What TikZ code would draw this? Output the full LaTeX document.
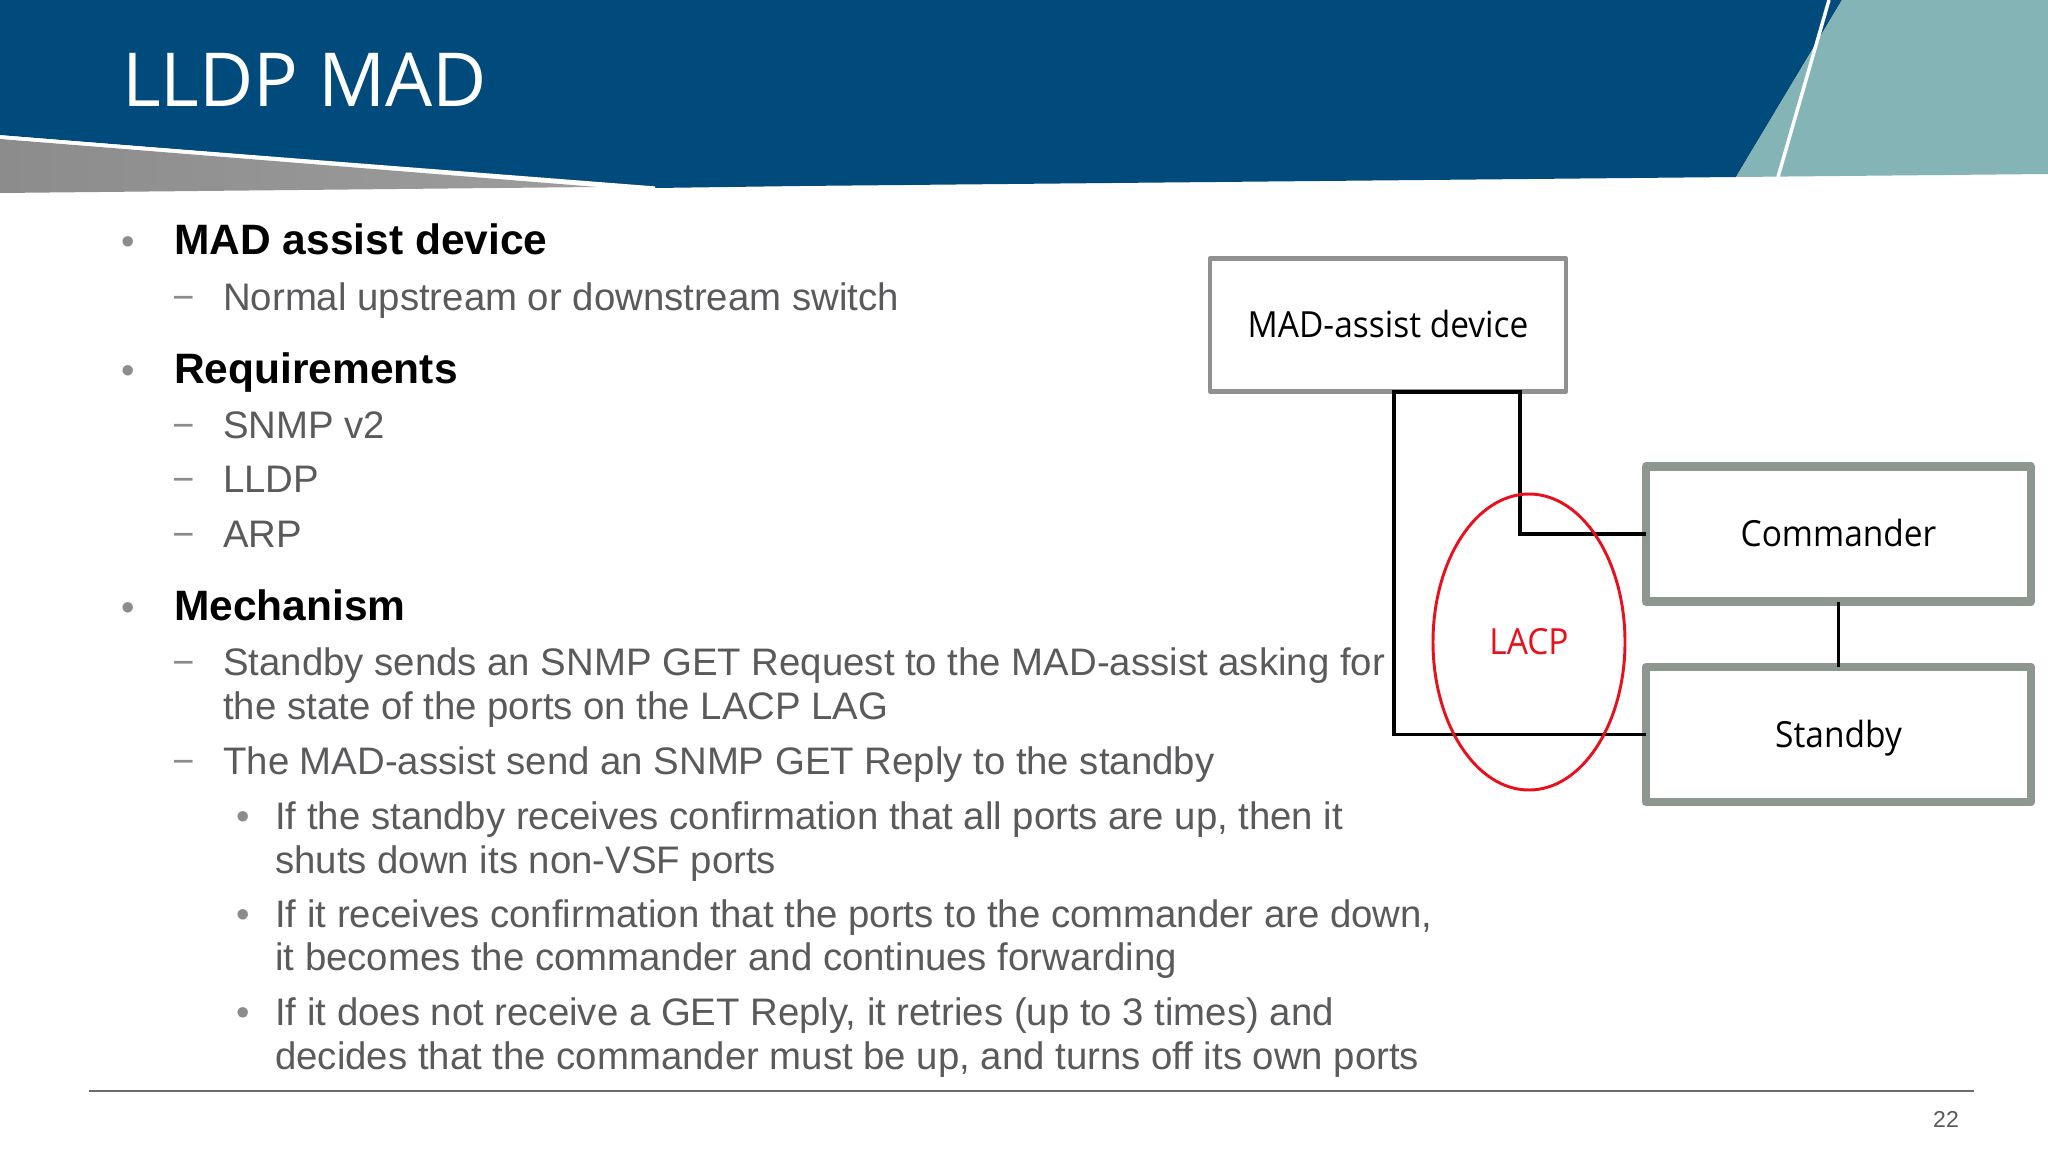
\documentclass[tikz,border=0pt]{standalone}
\usepackage{fontspec}
\setmainfont{Liberation Sans}
\newfontfamily\lblfont[FakeStretch=0.93]{Open Sans}
\newfontfamily\ttlfont{Open Sans}
\usetikzlibrary{shapes.geometric}
\definecolor{hdrblue}{HTML}{004B7C}
\definecolor{hdrteal}{HTML}{84B4B5}
\definecolor{bodygray}{HTML}{5A5A5C}
\definecolor{bulgray}{HTML}{8C8C8C}
\definecolor{boxgray}{HTML}{8E9690}
\definecolor{madgray}{HTML}{909090}
\definecolor{lacpred}{HTML}{E8101C}
\newcommand{\fpx}[1]{\fontsize{\dimexpr#1pt*3/4\relax}{\dimexpr#1pt*3/4\relax}\selectfont}
\tikzset{
  x=0.75pt,y=-0.75pt,
  head/.style={font=\fpx{42.5}\bfseries,text=black,anchor=base west,inner sep=0},
  body/.style={font=\fpx{38.35},text=bodygray,anchor=base west,inner sep=0},
  mark1/.style={font=\fpx{38.35},text=bulgray,anchor=base,inner sep=0},
  lbl/.style={font=\lblfont\fpx{36},text height=19.3pt,text depth=0pt},
  dev/.style={lbl,draw=boxgray,line width=6.4pt,line join=round,fill=white,minimum width=288.75pt,minimum height=101.25pt,inner sep=0,outer sep=0,text=black},
  madbox/.style={lbl,draw=madgray,line width=3.2pt,line join=round,fill=white,minimum width=267pt,minimum height=99.75pt,inner sep=0,outer sep=0,text=black},
  wire/.style={draw=black,line width=2.3pt,line join=miter},
}
\begin{document}
\begin{tikzpicture}
\useasboundingbox (0,0) rectangle (2048,1152);
\fill[white] (0,0) rectangle (2048,1152);
% header
\fill[hdrblue] (0,0) -- (1842,0) -- (1736,177) -- (800,186) -- (655,188) -- (0,135) -- cycle;
\shade[left color=bulgray,right color=bulgray!85] (0,139) -- (597,187) -- (0,193) -- cycle;
\fill[hdrteal] (1842,0) -- (2048,0) -- (2048,174) -- (1736,177) -- cycle;
\draw[white,line width=2.6pt] (1829,0) -- (1778,177);
\draw[white,line width=2.4pt] (0,137) -- (655,188);
% title
\node[font=\ttlfont\fpx{74.5},text=white,anchor=base west,inner sep=0] (title) at (122,107) {LLDP MAD};
% text
\node[mark1] (b1) at (128,254) {•};
\node[head] (t1) at (174,254) {MAD assist device};
\node[mark1] (d1) at (184,310) {−};
\node[body] (t2) at (223,310) {Normal upstream or downstream switch};
\node[mark1] (b2) at (128,383) {•};
\node[head] (t3) at (174,383) {Requirements};
\node[mark1] (d2) at (184,438) {−};
\node[body] (t4) at (223,438) {SNMP v2};
\node[mark1] (d3) at (184,492) {−};
\node[body] (t5) at (223,492) {LLDP};
\node[mark1] (d4) at (184,547) {−};
\node[body] (t6) at (223,547) {ARP};
\node[mark1] (b3) at (128,620) {•};
\node[head] (t7) at (174,620) {Mechanism};
\node[mark1] (d5) at (184,675) {−};
\node[body] (t8) at (223,675) {Standby sends an SNMP GET Request to the MAD-assist asking for};
\node[body] (t9) at (223,719) {the state of the ports on the LACP LAG};
\node[mark1] (d6) at (184,774) {−};
\node[body] (t10) at (223,774) {The MAD-assist send an SNMP GET Reply to the standby};
\node[mark1] (s1) at (243,829) {•};
\node[body] (t11) at (275,829) {If the standby receives confirmation that all ports are up, then it};
\node[body] (t12) at (275,873) {shuts down its non-VSF ports};
\node[mark1] (s2) at (243,927) {•};
\node[body] (t13) at (275,927) {If it receives confirmation that the ports to the commander are down,};
\node[body] (t14) at (275,970) {it becomes the commander and continues forwarding};
\node[mark1] (s3) at (243,1025) {•};
\node[body] (t15) at (275,1025) {If it does not receive a GET Reply, it retries (up to 3 times) and};
\node[body] (t16) at (275,1069) {decides that the commander must be up, and turns off its own ports};
% diagram
\node[madbox] (mad) at (1388,325) {MAD-assist device};
\node[dev] (cmd) at (1838.5,534) {Commander};
\node[dev] (sby) at (1838.5,734.5) {Standby};
\coordinate (madL) at (1394,392);
\coordinate (madR) at (1520,392);
\draw[wire] (cmd.west) -| (madR) -- (madL) |- (sby.west);
\draw[wire] (cmd.south) -- (sby.north);
\node[lbl,draw=lacpred,line width=2.2pt,ellipse,minimum width=144pt,minimum height=222pt,inner sep=0,outer sep=0,text=lacpred] (lacp) at (1529,642) {LACP};
% footer
\coordinate (fl) at (89,1091);
\coordinate (fr) at (1974,1091);
\draw[bodygray!90,line width=1.7pt] (fl) -- (fr);
\node[font=\fpx{23},text=bodygray,anchor=base,inner sep=0] (pg) at (1946,1127) {22};
\end{tikzpicture}
\end{document}
